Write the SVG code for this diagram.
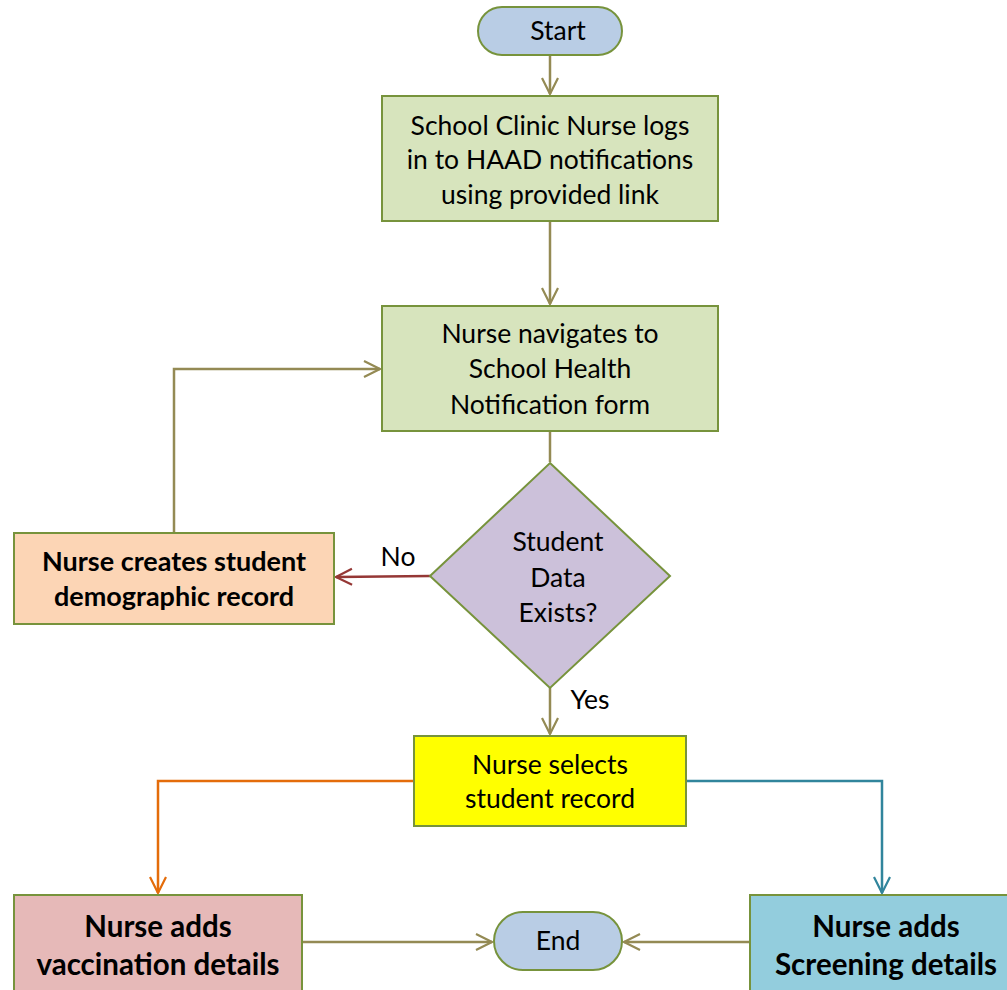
<svg xmlns="http://www.w3.org/2000/svg" width="1007" height="990" viewBox="0 0 1007 990">
<defs>
<marker id="aO" viewBox="0 0 20 20" refX="18" refY="10" markerWidth="20" markerHeight="20" markerUnits="userSpaceOnUse" orient="auto"><path d="M2,2 L18,10 L2,18" fill="none" stroke="#948a54" stroke-width="2.2"/></marker>
<marker id="aR" viewBox="0 0 20 20" refX="18" refY="10" markerWidth="20" markerHeight="20" markerUnits="userSpaceOnUse" orient="auto"><path d="M2,2 L18,10 L2,18" fill="none" stroke="#953735" stroke-width="2.2"/></marker>
<marker id="aY" viewBox="0 0 20 20" refX="18" refY="10" markerWidth="20" markerHeight="20" markerUnits="userSpaceOnUse" orient="auto"><path d="M2,2 L18,10 L2,18" fill="none" stroke="#e46c0a" stroke-width="2.2"/></marker>
<marker id="aT" viewBox="0 0 20 20" refX="18" refY="10" markerWidth="20" markerHeight="20" markerUnits="userSpaceOnUse" orient="auto"><path d="M2,2 L18,10 L2,18" fill="none" stroke="#31859c" stroke-width="2.2"/></marker>
</defs>
<style>
.n{stroke:#77933c;stroke-width:2}
text{font-family:Lato,"Liberation Sans",sans-serif;fill:#000;text-anchor:middle}
.t{font-size:26.5px}
.b{font-size:27px;font-weight:bold}
.bb{font-size:29.5px;font-weight:bold}
.c{fill:none;stroke-width:2.5}
</style>
<rect width="1007" height="990" fill="#fff"/>
<g id="connectors">
<path class="c" d="M550,55 V94" stroke="#948a54" marker-end="url(#aO)"/>
<path class="c" d="M550,221 V304" stroke="#948a54" marker-end="url(#aO)"/>
<path class="c" d="M550,431 V462" stroke="#948a54"/>
<path class="c" d="M430,576 L336,577" stroke="#953735" marker-end="url(#aR)"/>
<path class="c" d="M174,533 V369 H380" stroke="#948a54" marker-end="url(#aO)"/>
<path class="c" d="M550,688 V734" stroke="#948a54" marker-end="url(#aO)"/>
<path class="c" d="M414,781 H158 V893" stroke="#e46c0a" marker-end="url(#aY)"/>
<path class="c" d="M686,781 H882 V893" stroke="#31859c" marker-end="url(#aT)"/>
<path class="c" d="M302,942 H492" stroke="#948a54" marker-end="url(#aO)"/>
<path class="c" d="M750,942 H624" stroke="#948a54" marker-end="url(#aO)"/>
<text class="t" x="398" y="566">No</text>
<text class="t" x="590" y="709">Yes</text>
</g>
<g id="start">
<rect class="n" x="478" y="7" width="144" height="48" rx="24" fill="#b9cde5"/>
<text class="t" x="558" y="40">Start</text>
</g>
<g id="login">
<rect class="n" x="382" y="96" width="336" height="125" fill="#d7e4bd"/>
<text class="t" x="550" y="135">School Clinic Nurse logs</text>
<text class="t" x="550" y="169">in to HAAD notifications</text>
<text class="t" x="550" y="204">using provided link</text>
</g>
<g id="navigate">
<rect class="n" x="382" y="306" width="336" height="125" fill="#d7e4bd"/>
<text class="t" x="550" y="343">Nurse navigates to</text>
<text class="t" x="550" y="378">School Health</text>
<text class="t" x="550" y="414">Notification form</text>
</g>
<g id="decision">
<polygon class="n" points="550,463 670,576 550,688 430,576" fill="#ccc1da"/>
<text class="t" x="558" y="551">Student</text>
<text class="t" x="558" y="587">Data</text>
<text class="t" x="558" y="622">Exists?</text>
</g>
<g id="create">
<rect class="n" x="14" y="533" width="320" height="91" fill="#fcd5b5"/>
<text class="b" x="174" y="571">Nurse creates student</text>
<text class="b" x="174" y="606">demographic record</text>
</g>
<g id="select">
<rect class="n" x="414" y="736" width="272" height="90" fill="#ffff00"/>
<text class="t" x="550" y="774">Nurse selects</text>
<text class="t" x="550" y="808">student record</text>
</g>
<g id="vaccination">
<rect class="n" x="14" y="895" width="288" height="100" fill="#e6b9b8"/>
<text class="bb" x="158" y="937">Nurse adds</text>
<text class="bb" x="158" y="975">vaccination details</text>
</g>
<g id="end">
<rect class="n" x="494" y="912" width="128" height="58" rx="29" fill="#b9cde5"/>
<text class="t" x="558" y="950">End</text>
</g>
<g id="screening">
<rect class="n" x="750" y="895" width="262" height="100" fill="#93cddd"/>
<text class="bb" x="886" y="937">Nurse adds</text>
<text class="bb" x="886" y="975">Screening details</text>
</g>
</svg>
